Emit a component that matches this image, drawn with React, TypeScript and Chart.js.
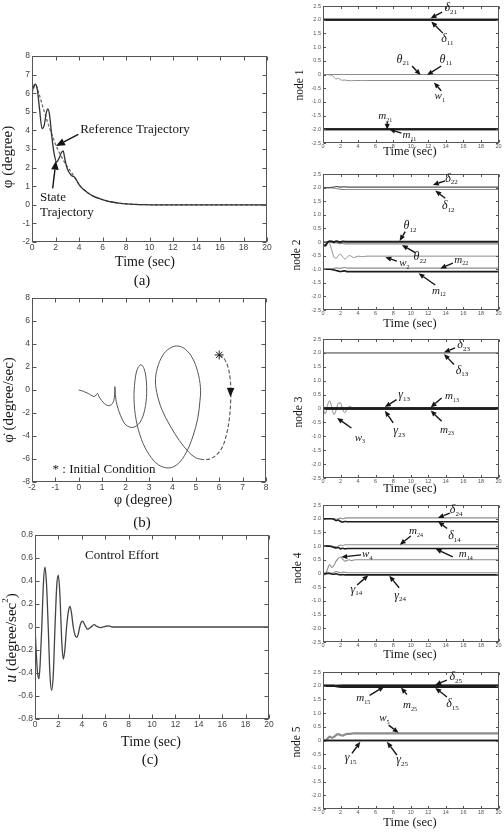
import { useEffect, useRef } from "react";
import { Chart, registerables } from "chart.js";

Chart.register(...registerables);

const SERIF = '"Liberation Serif", "Times New Roman", serif';
const SANS = '"Liberation Sans", Arial, sans-serif';
const INK = "#1c1c1c";
const GREY = "#8c8c8c";

// ---------- (a) roll angle (degree) vs time (sec) ----------
const stateTime = [0, 0.1, 0.28, 0.45, 0.65, 0.85, 1.05, 1.2, 1.36, 1.5, 1.7, 1.9, 2.1, 2.3, 2.5, 2.65, 2.8, 3.0, 3.2, 3.4, 3.55, 3.7, 3.9, 4.1, 4.4, 4.8, 5.2, 5.7, 6.2, 6.8, 7.4, 8.0, 8.7, 9.5, 10.5, 12, 20];
const stateAngle = [6.0, 6.3, 6.48, 6.2, 5.1, 4.1, 4.3, 4.9, 5.15, 4.8, 3.6, 2.7, 2.3, 2.5, 2.8, 2.9, 2.45, 1.95, 1.7, 1.55, 1.52, 1.42, 1.2, 1.0, 0.82, 0.62, 0.47, 0.34, 0.24, 0.15, 0.09, 0.05, 0.025, 0.01, 0, 0, 0];
const refTime = [0, 0.3, 0.6, 1.0, 1.4, 1.8, 2.1, 2.5, 2.9, 3.3, 3.7, 4.1, 4.4, 4.8, 5.2, 5.7, 6.2, 6.8, 7.4, 8.0, 8.7, 9.5, 10.5, 12, 20];
const refAngle = [6.0, 6.45, 5.95, 5.1, 4.3, 3.6, 3.1, 2.6, 2.15, 1.8, 1.4, 1.02, 0.82, 0.62, 0.47, 0.34, 0.24, 0.15, 0.09, 0.05, 0.025, 0.01, 0, 0, 0];

// ---------- (b) phase portrait: angle (degree) vs rate (degree/sec) ----------
const startPhi = [6.0, 6.2, 6.36, 6.46, 6.5, 6.49, 6.44, 6.33, 6.15, 5.9, 5.6, 5.3];
const startRate = [3.05, 2.75, 2.1, 1.1, 0, -1.0, -2.4, -3.7, -4.9, -5.6, -6.0, -6.05];
const phasePhi = [5.3, 5.0, 4.7, 4.3, 3.9, 3.55, 3.33, 3.28, 3.4, 3.65, 3.95, 4.25, 4.55, 4.85, 5.08, 5.2, 5.18, 5.08, 4.88, 4.6, 4.25, 3.85, 3.4, 3.0, 2.68, 2.45, 2.36, 2.4, 2.5, 2.65, 2.79, 2.88, 2.9, 2.82, 2.62, 2.32, 2.02, 1.78, 1.6, 1.54, 1.5, 1.33, 1.1, 0.87, 0.8, 0.66, 0.4, 0.2, 0];
const phaseRate = [-6.05, -5.9, -5.4, -4.4, -3.1, -1.7, -0.2, 1.0, 2.2, 3.2, 3.7, 3.82, 3.55, 2.8, 1.6, 0.2, -0.9, -2.5, -4.0, -5.4, -6.4, -6.78, -6.5, -5.6, -4.3, -2.6, -0.8, 0.8, 1.8, 2.2, 1.85, 0.9, -0.3, -1.7, -2.8, -3.25, -3.05, -2.2, -1.0, 0.3, -0.9, -1.35, -1.2, -0.6, -0.3, -0.57, -0.3, -0.12, 0];
const initialPhi = [6.0];
const initialRate = [3.05];

// ---------- (c) control effort u (degree/sec^2) vs time ----------
const effortTime = [0, 0.12, 0.22, 0.34, 0.45, 0.58, 0.72, 0.85, 0.98, 1.13, 1.28, 1.42, 1.56, 1.71, 1.86, 1.99, 2.12, 2.2, 2.3, 2.42, 2.55, 2.7, 2.86, 2.99, 3.12, 3.27, 3.42, 3.56, 3.7, 3.82, 3.95, 4.07, 4.2, 4.35, 4.5, 4.65, 4.8, 5.05, 5.3, 5.6, 6.0, 6.3, 6.6, 7, 20];
const effortValue = [0, -0.25, -0.4, -0.45, -0.3, 0, 0.38, 0.52, 0.38, 0, -0.42, -0.55, -0.42, 0, 0.36, 0.45, 0.3, 0.1, -0.15, -0.28, -0.2, 0, 0.14, 0.18, 0.12, 0, -0.07, -0.09, -0.06, 0, 0.04, 0.05, 0.03, 0, -0.02, -0.01, 0, 0.02, 0.005, -0.005, 0.005, 0.01, 0, 0, 0];

// ---------- node parameter histories ----------
const nodeTime = [0, 0.25, 0.5, 0.75, 1, 1.25, 1.5, 1.75, 2, 2.25, 2.5, 2.75, 3, 3.25, 3.5, 3.75, 4, 4.25, 4.5, 4.75, 5, 20];
const flatTime = [0, 20];

const n1Delta21 = [2, 2];
const n1Delta11 = [2, 2];
const n1Theta21 = [0, 0];
const n1Theta11 = [0, 0];
const n1W = [0, -0.01, 0, -0.02, -0.03, -0.1, -0.16, -0.14, -0.19, -0.21, -0.2, -0.22, -0.22, -0.23, -0.22, -0.22, -0.22, -0.22, -0.22, -0.22, -0.22, -0.22];
const n1M21 = [-2, -2];
const n1M11 = [-2, -2];

const n2Delta22 = [2, 2, 2, 2, 2.01, 2.02, 2.04, 2.03, 2.02, 2.03, 2.03, 2.02, 2.02, 2.02, 2.02, 2.02, 2.02, 2.02, 2.02, 2.02, 2.02, 2.02];
const n2Delta12 = [2, 2, 2, 2, 1.99, 1.98, 1.97, 1.95, 1.94, 1.93, 1.93, 1.93, 1.93, 1.93, 1.93, 1.93, 1.93, 1.93, 1.93, 1.93, 1.93, 1.93];
const n2Theta12 = [-0.1, -0.14, -0.02, 0.03, 0.02, 0, 0.03, 0.01, 0, 0.02, 0.01, 0.01, 0.01, 0.01, 0.01, 0.01, 0.01, 0.01, 0.01, 0.01, 0.01, 0.01];
const n2Theta22 = [0, 0.02, 0.02, 0, -0.02, -0.04, -0.03, -0.05, -0.06, -0.05, -0.07, -0.07, -0.07, -0.07, -0.07, -0.07, -0.07, -0.07, -0.07, -0.07, -0.07, -0.07];
const n2W = [0, 0, 0.01, -0.05, -0.3, -0.55, -0.6, -0.5, -0.45, -0.55, -0.62, -0.56, -0.5, -0.53, -0.57, -0.55, -0.52, -0.53, -0.54, -0.53, -0.52, -0.52];
const n2M22 = [-1, -1, -1, -1, -0.99, -0.97, -0.95, -0.96, -0.97, -0.95, -0.94, -0.96, -0.96, -0.96, -0.96, -0.96, -0.96, -0.96, -0.96, -0.96, -0.96, -0.96];
const n2M12 = [-1, -1, -1, -1, -1.01, -1.03, -1.05, -1.07, -1.09, -1.07, -1.06, -1.09, -1.09, -1.09, -1.09, -1.09, -1.09, -1.09, -1.09, -1.09, -1.09, -1.09];

const n3Delta23 = [2, 2];
const n3Delta13 = [2, 2];
const n3Gamma13 = [0, 0];
const n3Gamma23 = [0, 0];
const n3M13 = [0, 0];
const n3M23 = [0, 0];
const n3W = [0, -0.2, 0.1, 0.28, 0.05, -0.22, -0.05, 0.2, 0.2, -0.05, -0.15, 0, 0.08, 0.05, -0.04, -0.02, 0.03, 0.01, -0.01, 0, 0, 0];

const n4Delta24 = [2, 2, 2, 2, 2, 2, 1.98, 2.0, 2.02, 2.0, 2.02, 2.03, 2.03, 2.03, 2.03, 2.03, 2.03, 2.03, 2.03, 2.03, 2.03, 2.03];
const n4Delta14 = [2, 2, 2, 2, 2, 1.98, 1.93, 1.95, 1.9, 1.88, 1.9, 1.89, 1.89, 1.89, 1.89, 1.89, 1.89, 1.89, 1.89, 1.89, 1.89, 1.89];
const n4M24 = [1, 1, 1, 1, 1, 0.98, 0.97, 1.0, 1.04, 1.02, 1.05, 1.05, 1.05, 1.05, 1.05, 1.05, 1.05, 1.05, 1.05, 1.05, 1.05, 1.05];
const n4M14 = [1, 1, 1, 1, 0.98, 0.95, 0.93, 0.95, 0.9, 0.92, 0.9, 0.91, 0.91, 0.91, 0.91, 0.91, 0.91, 0.91, 0.91, 0.91, 0.91, 0.91];
const n4W = [0, -0.05, 0.15, 0.33, 0.22, 0.3, 0.45, 0.55, 0.6, 0.52, 0.45, 0.48, 0.5, 0.47, 0.49, 0.5, 0.5, 0.5, 0.5, 0.5, 0.5, 0.5];
const n4Gamma14 = [0, 0.02, 0.05, 0.03, 0.01, 0.04, 0.07, 0.05, 0.03, 0.05, 0.04, 0.03, 0.03, 0.03, 0.03, 0.03, 0.03, 0.03, 0.03, 0.03, 0.03, 0.03];
const n4Gamma24 = [0, -0.01, 0, 0, -0.02, -0.03, -0.01, -0.04, -0.05, -0.04, -0.05, -0.05, -0.05, -0.05, -0.05, -0.05, -0.05, -0.05, -0.05, -0.05, -0.05, -0.05];

const n5Delta25 = [2, 2, 2, 2, 2, 2, 2.01, 2.02, 2.03, 2.04, 2.04, 2.04, 2.04, 2.04, 2.04, 2.04, 2.04, 2.04, 2.04, 2.04, 2.04, 2.04];
const n5M15 = [2, 2];
const n5M25 = [2, 2, 2, 2, 2, 2, 1.99, 1.98, 1.97, 1.97, 1.97, 1.97, 1.97, 1.97, 1.97, 1.97, 1.97, 1.97, 1.97, 1.97, 1.97, 1.97];
const n5Delta15 = [2, 2, 2, 2, 2, 2, 1.98, 1.97, 1.96, 1.95, 1.95, 1.95, 1.95, 1.95, 1.95, 1.95, 1.95, 1.95, 1.95, 1.95, 1.95, 1.95];
const n5W = [0, 0, 0.06, 0.14, 0.1, 0.13, 0.2, 0.23, 0.2, 0.18, 0.22, 0.24, 0.24, 0.25, 0.26, 0.26, 0.26, 0.26, 0.26, 0.26, 0.26, 0.26];
const n5Gamma15 = [0, 0];
const n5Gamma25 = [0, 0];

// ---------- drawing helpers ----------
type Run = { text: string; font: string; dy?: number };
type Title = { x: number; y: number; runs: Run[]; vertical?: boolean };
type Label = { at: [number, number]; runs: Run[] };
type Arrow = { from: [number, number]; to: [number, number]; head?: number; shaft?: boolean };
type Notes = { titles: Title[]; labels: Label[]; arrows: Arrow[]; arrowWidth: number; head: number };
type Spec = {
  box: { x: number; y: number; w: number; h: number };
  area: { l: number; t: number; r: number; b: number };
  xr: [number, number, number];
  yr: [number, number, number];
  tickSize: number;
  tickColor: string;
  tickLen: number;
  datasets: any[];
  notes: Notes;
};

const serif = (text: string, size: number, italic = false): Run => ({
  text,
  font: `${italic ? "italic " : ""}${size}px ${SERIF}`,
});
const sym = (s: string, sub: string, size = 12): Run[] => [
  { text: s, font: `italic ${size}px ${SERIF}` },
  { text: sub, font: `${Math.round(size * 0.55)}px ${SERIF}`, dy: size * 0.35 },
];

const series = (xs: number[], ys: number[], color: string, width: number, extra: any = {}) => ({
  data: xs.map((x, i) => ({ x, y: ys[i] })),
  borderColor: color,
  borderWidth: width,
  pointRadius: 0,
  fill: false,
  cubicInterpolationMode: "monotone",
  ...extra,
});

function drawRuns(ctx: CanvasRenderingContext2D, runs: Run[], centered: boolean) {
  let w = 0;
  for (const r of runs) {
    ctx.font = r.font;
    w += ctx.measureText(r.text).width;
  }
  let x = centered ? -w / 2 : 0;
  ctx.textBaseline = "middle";
  ctx.textAlign = "left";
  for (const r of runs) {
    ctx.font = r.font;
    ctx.fillText(r.text, x, r.dy ?? 0);
    x += ctx.measureText(r.text).width;
  }
}

function drawArrow(ctx: CanvasRenderingContext2D, x1: number, y1: number, x2: number, y2: number, head: number, width: number, shaft: boolean) {
  const ang = Math.atan2(y2 - y1, x2 - x1);
  const hw = head * 0.42;
  const bx = x2 - head * Math.cos(ang);
  const by = y2 - head * Math.sin(ang);
  if (shaft) {
    ctx.beginPath();
    ctx.moveTo(x1, y1);
    ctx.lineTo(bx, by);
    ctx.lineWidth = width;
    ctx.stroke();
  }
  ctx.beginPath();
  ctx.moveTo(x2, y2);
  ctx.lineTo(bx + hw * Math.sin(ang), by - hw * Math.cos(ang));
  ctx.lineTo(bx - hw * Math.sin(ang), by + hw * Math.cos(ang));
  ctx.closePath();
  ctx.fill();
}

// boxed axes with inward tick marks on all four sides
function framePlugin(spec: Spec) {
  return {
    id: "frame",
    afterDatasetsDraw(chart: any) {
      const { ctx, chartArea: a, scales } = chart;
      const L = Math.round(a.left) + 0.5;
      const R = Math.round(a.right) - 0.5;
      const T = Math.round(a.top) + 0.5;
      const B = Math.round(a.bottom) - 0.5;
      ctx.save();
      ctx.strokeStyle = "#555";
      ctx.lineWidth = 1;
      ctx.strokeRect(L, T, R - L, B - T);
      ctx.beginPath();
      const n = spec.tickLen;
      for (const t of scales.x.ticks) {
        const p = Math.round(scales.x.getPixelForValue(t.value)) + 0.5;
        ctx.moveTo(p, B);
        ctx.lineTo(p, B - n);
        ctx.moveTo(p, T);
        ctx.lineTo(p, T + n);
      }
      for (const t of scales.y.ticks) {
        const p = Math.round(scales.y.getPixelForValue(t.value)) + 0.5;
        ctx.moveTo(L, p);
        ctx.lineTo(L + n, p);
        ctx.moveTo(R, p);
        ctx.lineTo(R - n, p);
      }
      ctx.stroke();
      ctx.restore();
    },
  };
}

// axis titles (page coordinates) and callouts (data coordinates)
function notesPlugin(spec: Spec) {
  return {
    id: "notes",
    afterDraw(chart: any) {
      const ctx = chart.ctx as CanvasRenderingContext2D;
      const sx = chart.scales.x;
      const sy = chart.scales.y;
      const n = spec.notes;
      ctx.save();
      ctx.fillStyle = "#151515";
      ctx.strokeStyle = "#151515";
      for (const t of n.titles) {
        ctx.save();
        ctx.translate(t.x - spec.box.x, t.y - spec.box.y);
        if (t.vertical) ctx.rotate(-Math.PI / 2);
        drawRuns(ctx, t.runs, true);
        ctx.restore();
      }
      for (const l of n.labels) {
        ctx.save();
        ctx.translate(sx.getPixelForValue(l.at[0]), sy.getPixelForValue(l.at[1]));
        drawRuns(ctx, l.runs, false);
        ctx.restore();
      }
      for (const a of n.arrows) {
        drawArrow(
          ctx,
          sx.getPixelForValue(a.from[0]),
          sy.getPixelForValue(a.from[1]),
          sx.getPixelForValue(a.to[0]),
          sy.getPixelForValue(a.to[1]),
          a.head ?? n.head,
          n.arrowWidth,
          a.shaft !== false
        );
      }
      ctx.restore();
    },
  };
}

function buildConfig(spec: Spec): any {
  const { box, area } = spec;
  const tickFont = { family: SANS, size: spec.tickSize };
  return {
    type: "line",
    data: { datasets: spec.datasets },
    options: {
      responsive: false,
      maintainAspectRatio: false,
      animation: false,
      devicePixelRatio: 1,
      events: [],
      layout: {
        padding: { left: 0, top: area.t - box.y, right: box.x + box.w - area.r, bottom: 0 },
      },
      plugins: { legend: { display: false }, tooltip: { enabled: false } },
      scales: {
        x: {
          type: "linear",
          min: spec.xr[0],
          max: spec.xr[1],
          ticks: { stepSize: spec.xr[2], autoSkip: false, maxRotation: 0, padding: 0.5, font: tickFont, color: spec.tickColor },
          grid: { display: false, drawTicks: false },
          border: { display: false },
          afterFit: (s: any) => {
            s.height = box.y + box.h - area.b;
          },
        },
        y: {
          type: "linear",
          min: spec.yr[0],
          max: spec.yr[1],
          ticks: { stepSize: spec.yr[2], autoSkip: false, padding: 2, font: tickFont, color: spec.tickColor },
          grid: { display: false, drawTicks: false },
          border: { display: false },
          afterFit: (s: any) => {
            s.width = area.l - box.x;
          },
        },
      },
    },
    plugins: [framePlugin(spec), notesPlugin(spec)],
  };
}

// ---------- left column ----------
const specA: Spec = {
  box: { x: 0, y: 44, w: 276, h: 228 },
  area: { l: 32, t: 56, r: 267, b: 242 },
  xr: [0, 20, 2],
  yr: [-2, 8, 1],
  tickSize: 8.5,
  tickColor: "#444",
  tickLen: 4,
  datasets: [
    series(stateTime, stateAngle, "#333", 1.3),
    series(refTime, refAngle, "#666", 1.2, { borderDash: [3, 2] }),
  ],
  notes: {
    titles: [
      { x: 8, y: 157, vertical: true, runs: [serif("φ (degree)", 15)] },
      { x: 145, y: 262, runs: [serif("Time (sec)", 14)] },
    ],
    labels: [
      { at: [4.1, 4.07], runs: [serif("Reference Trajectory", 13)] },
      { at: [0.68, 0.37], runs: [serif("State", 13)] },
      { at: [0.68, -0.44], runs: [serif("Trajectory", 13)] },
    ],
    arrows: [
      { from: [3.94, 3.79], to: [2.04, 3.16] },
      { from: [1.76, 0.88], to: [2.04, 2.37] },
    ],
    arrowWidth: 1.4,
    head: 9,
  },
};

const specB: Spec = {
  box: { x: 0, y: 286, w: 276, h: 224 },
  area: { l: 32, t: 298, r: 266, b: 482 },
  xr: [-2, 8, 1],
  yr: [-8, 8, 2],
  tickSize: 8.5,
  tickColor: "#444",
  tickLen: 4,
  datasets: [
    series(initialPhi, initialRate, "#222", 1, { showLine: false, pointRadius: 4.5, pointStyle: "star", pointBorderColor: "#222", pointBorderWidth: 1 }),
    series(startPhi, startRate, "#555", 1.1, { cubicInterpolationMode: "default", tension: 0.35, borderDash: [4, 2] }),
    series(phasePhi, phaseRate, "#555", 1, { cubicInterpolationMode: "default", tension: 0.35 }),
  ],
  notes: {
    titles: [
      { x: 9, y: 400, vertical: true, runs: [serif("\u03C6\u0307 (degree/sec)", 15)] },
      { x: 143, y: 500, runs: [serif("φ (degree)", 14)] },
    ],
    labels: [{ at: [-1.12, -6.9], runs: [serif("* : Initial Condition", 13)] }],
    arrows: [{ from: [6.49, 0.3], to: [6.48, -0.6], head: 9, shaft: false }],
    arrowWidth: 1,
    head: 9,
  },
};

const specC: Spec = {
  box: { x: 0, y: 523, w: 278, h: 228 },
  area: { l: 35, t: 535, r: 269, b: 719 },
  xr: [0, 20, 2],
  yr: [-0.8, 0.8, 0.2],
  tickSize: 8.5,
  tickColor: "#444",
  tickLen: 4,
  datasets: [series(effortTime, effortValue, "#444", 1.3)],
  notes: {
    titles: [
      {
        x: 12,
        y: 638,
        vertical: true,
        runs: [serif("u", 16, true), serif(" (degree/sec", 15), { text: "2", font: `9px ${SERIF}`, dy: -6 }, serif(")", 15)],
      },
      { x: 151, y: 742, runs: [serif("Time (sec)", 14)] },
    ],
    labels: [{ at: [4.27, 0.617], runs: [serif("Control Effort", 13)] }],
    arrows: [],
    arrowWidth: 1,
    head: 8,
  },
};

// ---------- right column: node parameters ----------
const NODE_BOX_X = 285;
const NODE_BOX_W = 219;
const NODE_L = 323;
const NODE_R = 498.5;

function nodeSpec(
  boxY: number,
  boxH: number,
  top: number,
  bottom: number,
  name: string,
  nameX: number,
  nameY: number,
  timeY: number,
  datasets: any[],
  labels: Label[],
  arrows: Arrow[]
): Spec {
  return {
    box: { x: NODE_BOX_X, y: boxY, w: NODE_BOX_W, h: boxH },
    area: { l: NODE_L, t: top, r: NODE_R, b: bottom },
    xr: [0, 20, 2],
    yr: [-2.5, 2.5, 0.5],
    tickSize: 5.5,
    tickColor: "#555",
    tickLen: 2.5,
    datasets,
    notes: {
      titles: [
        { x: nameX, y: nameY, vertical: true, runs: [serif(name, 11.5)] },
        { x: 410, y: timeY, runs: [serif("Time (sec)", 12.5)] },
      ],
      labels,
      arrows,
      arrowWidth: 1.4,
      head: 6,
    },
  };
}

const spec1 = nodeSpec(
  0, 160, 6, 143, "node 1", 300, 85, 152,
  [
    series(flatTime, n1Delta21, INK, 2),
    series(flatTime, n1Delta11, INK, 2),
    series(flatTime, n1M21, INK, 2),
    series(flatTime, n1M11, INK, 2),
    series(flatTime, n1Theta21, GREY, 1),
    series(flatTime, n1Theta11, GREY, 1),
    series(nodeTime, n1W, GREY, 1),
  ],
  [
    { at: [13.85, 2.42], runs: sym("δ", "21") },
    { at: [13.47, 1.29], runs: sym("δ", "11") },
    { at: [8.38, 0.55], runs: sym("θ", "21") },
    { at: [13.28, 0.55], runs: sym("θ", "11") },
    { at: [12.72, -0.79], runs: sym("w", "1", 11) },
    { at: [6.3, -1.52], runs: sym("m", "21", 11) },
    { at: [9.06, -2.22], runs: sym("m", "11", 11) },
  ],
  [
    { from: [13.58, 2.28], to: [12.26, 2.05] },
    { from: [13.66, 1.51], to: [12.34, 1.93] },
    { from: [10.15, 0.31], to: [11.13, -0.02] },
    { from: [13.47, 0.31], to: [11.85, -0.02] },
    { from: [13.47, -0.59], to: [12.64, -0.29] },
    { from: [7.32, -1.72], to: [7.32, -2.02] },
    { from: [8.94, -2.14], to: [7.55, -2.0] },
  ]
);

const spec2 = nodeSpec(
  166, 164, 174, 310, "node 2", 297, 255, 323.5,
  [
    series(nodeTime, n2Theta12, INK, 2),
    series(nodeTime, n2M12, INK, 1.6),
    series(nodeTime, n2Delta22, "#555", 1.2),
    series(nodeTime, n2Delta12, GREY, 1.1),
    series(nodeTime, n2Theta22, GREY, 1.1),
    series(nodeTime, n2W, GREY, 1),
    series(nodeTime, n2M22, GREY, 1.1),
  ],
  [
    { at: [13.93, 2.34], runs: sym("δ", "22") },
    { at: [13.55, 1.32], runs: sym("δ", "12") },
    { at: [9.18, 0.59], runs: sym("θ", "12") },
    { at: [10.32, -0.56], runs: sym("θ", "22") },
    { at: [8.69, -0.78], runs: sym("w", "2", 11) },
    { at: [14.95, -0.66], runs: sym("m", "22", 11) },
    { at: [12.41, -1.79], runs: sym("m", "12", 11) },
  ],
  [
    { from: [13.93, 2.25], to: [12.52, 2.1] },
    { from: [13.93, 1.61], to: [12.79, 1.89] },
    { from: [9.37, 0.38], to: [8.73, 0.04] },
    { from: [10.51, -0.39], to: [8.99, -0.11] },
    { from: [8.42, -0.7], to: [7.1, -0.56] },
    { from: [14.8, -0.78], to: [13.36, -0.97] },
    { from: [12.79, -1.58], to: [10.89, -1.15] },
  ]
);

const spec3 = nodeSpec(
  331, 163, 339, 478, "node 3", 299, 412, 489,
  [
    series(flatTime, n3Gamma13, INK, 2),
    series(flatTime, n3Gamma23, INK, 2),
    series(flatTime, n3M13, INK, 2),
    series(flatTime, n3M23, INK, 2),
    series(flatTime, n3Delta23, GREY, 1.1),
    series(flatTime, n3Delta13, GREY, 1.1),
    series(nodeTime, n3W, GREY, 1),
  ],
  [
    { at: [15.31, 2.3], runs: sym("δ", "23") },
    { at: [15.12, 1.37], runs: sym("δ", "13") },
    { at: [8.57, 0.5], runs: sym("γ", "13") },
    { at: [8.0, -0.82], runs: sym("γ", "23") },
    { at: [13.9, 0.44], runs: sym("m", "13", 11) },
    { at: [13.33, -0.76], runs: sym("m", "23", 11) },
    { at: [3.62, -1.06], runs: sym("w", "3", 11) },
  ],
  [
    { from: [15.05, 2.18], to: [13.79, 2.02] },
    { from: [14.93, 1.58], to: [13.79, 1.96] },
    { from: [8.38, 0.32], to: [7.05, 0.05] },
    { from: [8.0, -0.52], to: [7.05, -0.08] },
    { from: [13.52, 0.38], to: [12.27, 0.04] },
    { from: [13.52, -0.46], to: [12.27, -0.07] },
    { from: [3.24, -0.7], to: [1.6, -0.34] },
  ]
);

const spec4 = nodeSpec(
  497, 165, 505, 642, "node 4", 298, 568, 655,
  [
    series(nodeTime, n4Delta14, INK, 1.6),
    series(nodeTime, n4M14, INK, 1.6),
    series(nodeTime, n4Gamma24, INK, 1.6),
    series(nodeTime, n4Delta24, GREY, 1.1),
    series(nodeTime, n4M24, GREY, 1.1),
    series(nodeTime, n4W, GREY, 1.1),
    series(nodeTime, n4Gamma14, GREY, 1.1),
  ],
  [
    { at: [14.45, 2.32], runs: sym("δ", "24") },
    { at: [14.26, 1.37], runs: sym("δ", "14") },
    { at: [9.81, 1.53], runs: sym("m", "24", 11) },
    { at: [15.47, 0.7], runs: sym("m", "14", 11) },
    { at: [4.45, 0.7], runs: sym("w", "4", 11) },
    { at: [3.13, -0.58], runs: sym("γ", "14") },
    { at: [8.11, -0.8], runs: sym("γ", "24") },
  ],
  [
    { from: [14.45, 2.2], to: [13.09, 2.03] },
    { from: [14.15, 1.64], to: [13.13, 1.89] },
    { from: [10.0, 1.37], to: [8.75, 1.05] },
    { from: [14.79, 0.61], to: [12.83, 0.9] },
    { from: [4.34, 0.68], to: [2.08, 0.6] },
    { from: [3.89, -0.42], to: [5.17, -0.06] },
    { from: [8.68, -0.52], to: [7.55, -0.08] },
  ]
);

const spec5 = nodeSpec(
  664, 170, 672, 809, "node 5", 297, 742, 823,
  [
    series(flatTime, n5M15, INK, 2),
    series(nodeTime, n5M25, INK, 2),
    series(nodeTime, n5Delta15, INK, 2),
    series(flatTime, n5Gamma15, INK, 1.6),
    series(flatTime, n5Gamma25, INK, 1.6),
    series(nodeTime, n5Delta25, GREY, 1.2),
    series(nodeTime, n5W, GREY, 2.2),
  ],
  [
    { at: [14.42, 2.32], runs: sym("δ", "25") },
    { at: [14.04, 1.35], runs: sym("δ", "15") },
    { at: [3.8, 1.53], runs: sym("m", "15", 11) },
    { at: [9.11, 1.29], runs: sym("m", "25", 11) },
    { at: [6.41, 0.81], runs: sym("w", "5", 11) },
    { at: [2.47, -0.65], runs: sym("γ", "15") },
    { at: [8.35, -0.71], runs: sym("γ", "25") },
  ],
  [
    { from: [14.12, 2.2], to: [12.79, 2.03] },
    { from: [14.12, 1.59], to: [12.79, 1.92] },
    { from: [5.31, 1.65], to: [6.98, 1.97] },
    { from: [9.56, 1.68], to: [8.88, 1.93] },
    { from: [7.48, 0.56], to: [8.61, 0.28] },
    { from: [3.3, -0.47], to: [4.25, -0.05] },
    { from: [8.42, -0.53], to: [7.29, -0.05] },
  ]
);

const SPECS: Spec[] = [specA, specB, specC, spec1, spec2, spec3, spec4, spec5];

const CAPTIONS: { text: string; x: number; y: number }[] = [
  { text: "(a)", x: 142, y: 280 },
  { text: "(b)", x: 142, y: 522 },
  { text: "(c)", x: 150, y: 759 },
];

function ChartCanvas({ spec }: { spec: Spec }) {
  const ref = useRef<HTMLCanvasElement>(null);
  useEffect(() => {
    const chart = new Chart(ref.current as HTMLCanvasElement, buildConfig(spec));
    return () => chart.destroy();
  }, [spec]);
  return (
    <canvas
      ref={ref}
      width={spec.box.w}
      height={spec.box.h}
      style={{ position: "absolute", left: spec.box.x, top: spec.box.y, width: spec.box.w, height: spec.box.h }}
    />
  );
}

export default function App() {
  return (
    <div style={{ position: "absolute", left: 0, top: 0, width: 504, height: 838, background: "#fff", overflow: "hidden" }}>
      {SPECS.map((s, i) => (
        <ChartCanvas key={i} spec={s} />
      ))}
      {CAPTIONS.map((c) => (
        <div
          key={c.text}
          style={{
            position: "absolute",
            left: c.x - 20,
            top: c.y - 9,
            width: 40,
            height: 18,
            lineHeight: "18px",
            textAlign: "center",
            fontFamily: SERIF,
            fontSize: 15,
            color: "#151515",
          }}
        >
          {c.text}
        </div>
      ))}
    </div>
  );
}
